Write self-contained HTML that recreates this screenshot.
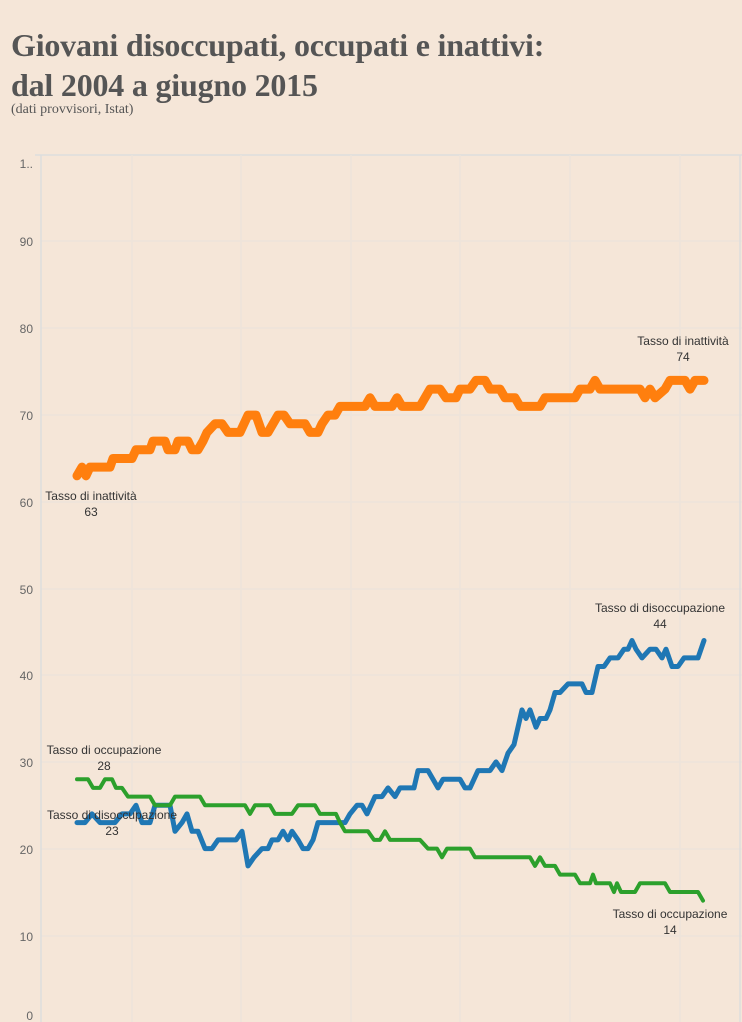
<!DOCTYPE html>
<html><head><meta charset="utf-8"><style>
body{margin:0;background:#f5e6d8;width:742px;height:1022px;overflow:hidden;position:relative;font-family:"Liberation Sans",sans-serif}
.t{position:absolute;left:11px;top:25px;font-family:"Liberation Serif",serif;font-weight:bold;font-size:32px;line-height:40px;color:#555;letter-spacing:-0.2px}
.s{position:absolute;left:11px;top:102px;font-family:"Liberation Serif",serif;font-size:14px;color:#555}
svg{position:absolute;left:0;top:0}
</style></head><body>
<div class="t">Giovani disoccupati, occupati e inattivi:<br>dal 2004 a giugno 2015</div>
<div class="s">(dati provvisori, Istat)</div>
<svg width="742" height="1022" font-family="Liberation Sans, sans-serif" font-size="12">
<g stroke="#ede4da" stroke-width="1.5">
<line x1="35" y1="155" x2="742" y2="155" stroke="#ddd"/>
<line x1="41" y1="241" x2="742" y2="241"/><line x1="41" y1="328" x2="742" y2="328"/>
<line x1="41" y1="415" x2="742" y2="415"/><line x1="41" y1="502" x2="742" y2="502"/>
<line x1="41" y1="589" x2="742" y2="589"/><line x1="41" y1="675" x2="742" y2="675"/>
<line x1="41" y1="762" x2="742" y2="762"/><line x1="41" y1="849" x2="742" y2="849"/>
<line x1="41" y1="936" x2="742" y2="936"/>
<line x1="132" y1="155" x2="132" y2="1022"/><line x1="241" y1="155" x2="241" y2="1022"/>
<line x1="351" y1="155" x2="351" y2="1022"/><line x1="460" y1="155" x2="460" y2="1022"/>
<line x1="570" y1="155" x2="570" y2="1022"/><line x1="680" y1="155" x2="680" y2="1022"/>
<line x1="41" y1="155" x2="41" y2="1022" stroke="#ddd"/>
<line x1="740" y1="155" x2="740" y2="1022" stroke="#ddd"/>
</g>
<g fill="#666" text-anchor="end">
<text x="33" y="168">1..</text><text x="33" y="246">90</text><text x="33" y="333">80</text>
<text x="33" y="420">70</text><text x="33" y="507">60</text><text x="33" y="594">50</text>
<text x="33" y="680">40</text><text x="33" y="767">30</text><text x="33" y="854">20</text>
<text x="33" y="941">10</text><text x="33" y="1020">0</text>
</g>
<g fill="none" stroke-linejoin="round" stroke-linecap="round">
<polyline id="o" stroke="#ff7f0e" stroke-width="9" points=""/>
<polyline id="b" stroke="#1f77b4" stroke-width="5" points=""/>
<polyline id="g" stroke="#2ca02c" stroke-width="4" points=""/>
</g>
<g fill="#333" text-anchor="middle">
<text x="91" y="500">Tasso di inattività</text><text x="91" y="516">63</text>
<text x="683" y="345">Tasso di inattività</text><text x="683" y="361">74</text>
<text x="660" y="612">Tasso di disoccupazione</text><text x="660" y="628">44</text>
<text x="104" y="754">Tasso di occupazione</text><text x="104" y="770">28</text>
<text x="112" y="819">Tasso di disoccupazione</text><text x="112" y="835">23</text>
<text x="670" y="918">Tasso di occupazione</text><text x="670" y="934">14</text>
</g>
</svg>
<script>
function set(id,a){var p=[];for(var i=0;i<a.length;i+=2)p.push(a[i]+","+(1022-8.67*a[i+1]).toFixed(1));document.getElementById(id).setAttribute("points",p.join(" "));}
set("o",[77,63,82,64,86,63,90,64,110,64,113,65,132,65,136,66,150,66,153,67,165,67,168,66,175,66,178,67,188,67,192,66,198,66,203,67,207,68,215,69,222,69,228,68,240,68,248,70,256,70,262,68,268,68,278,70,284,70,290,69,305,69,310,68,318,68,322,69,328,70,335,70,340,71,365,71,370,72,375,71,392,71,397,72,402,71,420,71,430,73,440,73,446,72,456,72,460,73,470,73,476,74,485,74,490,73,500,73,505,72,515,72,520,71,540,71,545,72,575,72,580,73,590,73,595,74,600,73,640,73,645,72,650,73,655,72,665,73,670,74,685,74,690,73,695,74,704,74]);
set("b",[77,23,85,23,92,24,100,23,115,23,122,24,130,24,136,25,142,23,150,23,155,25,170,25,175,22,182,23,187,24,192,22,198,22,205,20,212,20,218,21,236,21,242,22,248,18,254,19,262,20,268,20,272,21,278,21,283,22,288,21,292,22,298,21,303,20,308,20,313,21,318,23,338,23,345,23,350,24,357,25,362,25,367,24,375,26,382,26,388,27,395,26,400,27,414,27,418,29,428,29,433,28,438,27,443,28,460,28,465,27,470,27,478,29,490,29,496,30,502,29,508,31,514,32,518,34,522,36,526,35,530,36,536,34,540,35,546,35,550,36,555,38,560,38,568,39,582,39,586,38,592,38,598,41,604,41,610,42,618,42,624,43,628,43,632,44,636,43,642,42,650,43,656,43,662,42,666,43,672,41,678,41,684,42,698,42,704,44]);
set("g",[77,28,88,28,93,27,100,27,105,28,112,28,116,27,122,27,128,26,135,26,150,26,155,25,170,25,175,26,200,26,205,25,245,25,250,24,255,25,270,25,275,24,292,24,298,25,315,25,320,24,336,24,340,23,345,22,368,22,374,21,380,21,385,22,390,21,420,21,428,20,437,20,442,19,447,20,470,20,475,19,530,19,535,18,540,19,545,18,555,18,560,17,575,17,580,16,590,16,593,17,596,16,610,16,614,15,617,16,621,15,635,15,640,16,665,16,670,15,698,15,703,14]);
</script>
</body></html>
